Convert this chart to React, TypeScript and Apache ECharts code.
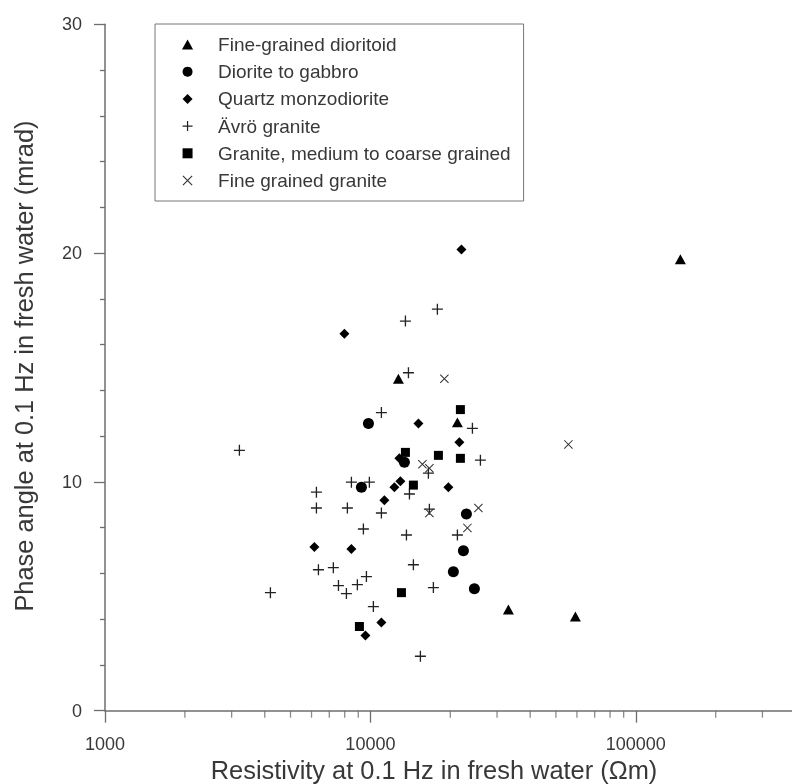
import React, { useEffect, useRef } from "react";
import * as echarts from "echarts";

// Data: [resistivity (Ωm), phase angle (mrad)]
const fineGrainedDioritoid = [[147200, 19.73], [12750, 14.51], [21270, 12.6], [33110, 4.42], [59200, 4.12]];
const dioriteToGabbro = [[9830, 12.55], [13430, 10.86], [9250, 9.77], [23000, 8.6], [22410, 6.99], [20540, 6.07], [24650, 5.33]];
const quartzMonzodiorite = [[22030, 20.16], [7980, 16.47], [15170, 12.55], [21640, 11.73], [12860, 11.03], [12310, 9.77], [12970, 10.03], [19670, 9.77], [11290, 9.2], [6150, 7.16], [8480, 7.07], [11000, 3.86], [9580, 3.29]];
const avroGranite = [[3209, 11.38], [6260, 9.55], [6260, 8.86], [8480, 9.99], [9910, 9.99], [8190, 8.86], [11000, 8.64], [9410, 7.94], [6370, 6.16], [7250, 6.25], [7580, 5.47], [8120, 5.12], [8930, 5.51], [9660, 5.86], [4200, 5.16], [10260, 4.55], [11000, 13.03], [13550, 17.03], [17880, 17.55], [13910, 14.77], [16540, 10.38], [14030, 9.47], [13670, 7.68], [14520, 6.38], [15430, 2.38], [17270, 5.38], [21270, 7.68], [24230, 12.34], [25970, 10.95], [16680, 8.81]];
const graniteMediumCoarse = [[21830, 13.16], [13550, 11.29], [18040, 11.16], [21830, 11.03], [14520, 9.86], [13090, 5.16], [9090, 3.68]];
const fineGrainedGranite = [[19000, 14.51], [55720, 11.64], [15700, 10.77], [16680, 10.6], [16680, 8.64], [25520, 8.86], [23200, 7.99]];

const seriesNames = [
  "Fine-grained dioritoid",
  "Diorite to gabbro",
  "Quartz monzodiorite",
  "Ävrö granite",
  "Granite, medium to coarse grained",
  "Fine grained granite",
];

const xMinorTickValues = [2000, 3000, 4000, 5000, 6000, 7000, 8000, 9000, 20000, 30000, 40000, 50000, 60000, 70000, 80000, 90000, 200000, 300000];

const xTitle = "Resistivity at 0.1 Hz in fresh water (Ωm)";
const yTitle = "Phase angle at 0.1 Hz in fresh water (mrad)";

const FONT = "'Liberation Sans', Arial, sans-serif";
const AXIS_COLOR = "#6e6e6e";
const TEXT_COLOR = "#383838";

const TRIANGLE = "path://M5,0L10,9L0,9Z";
const DIAMOND = "path://M5,0L10,5L5,10L0,5Z";
const SQUARE = "path://M0,0H10V10H0Z";
const PLUS = "path://M4.4,0H5.6V4.4H10V5.6H5.6V10H4.4V5.6H0V4.4H4.4Z";
const CROSS = "path://M0,0.8L0.8,0L10,9.2L9.2,10Z M9.2,0L10,0.8L0.8,10L0,9.2Z";

export default function App() {
  const ref = useRef<HTMLDivElement>(null);
  useEffect(() => {
    if (!ref.current) return;
    const chart = echarts.init(ref.current, null, { renderer: "svg" });
    const mk = (name: string, data: number[][], symbol: string, size: any, color: string) => ({
      type: "scatter",
      name,
      data,
      symbol,
      symbolSize: size,
      symbolKeepAspect: true,
      itemStyle: { color, opacity: 1 },
      clip: false,
      z: 3,
    });
    chart.setOption({
      animation: false,
      textStyle: { fontFamily: FONT },
      grid: { left: 105, top: 24.3, height: 686.4, width: 690.6, outerBoundsMode: "none", containLabel: false },
      xAxis: {
        type: "log",
        logBase: 10,
        min: 1000,
        max: 400000,
        axisLine: { show: true, lineStyle: { color: AXIS_COLOR, width: 1.5 } },
        axisTick: { show: true, length: 12, lineStyle: { color: AXIS_COLOR, width: 1.3 } },
        axisLabel: {
          show: true,
          margin: 24,
          fontSize: 18,
          color: TEXT_COLOR,
          fontFamily: FONT,
          showMaxLabel: false,
          formatter: (v: number) => {
            const l = Math.log10(v);
            return Math.abs(l - Math.round(l)) < 1e-6 ? String(Math.round(v)) : "";
          },
        },
        splitLine: { show: false },
        minorTick: { show: false },
      },
      yAxis: {
        type: "value",
        min: 0,
        max: 30,
        interval: 10,
        axisLine: { show: true, lineStyle: { color: AXIS_COLOR, width: 1.5 } },
        axisTick: { show: true, length: 11, lineStyle: { color: AXIS_COLOR, width: 1.3 } },
        minorTick: { show: true, splitNumber: 5, length: 5, lineStyle: { color: AXIS_COLOR, width: 1.3 } },
        axisLabel: { margin: 23, fontSize: 18, color: TEXT_COLOR, fontFamily: FONT },
        splitLine: { show: false },
      },
      legend: {
        orient: "vertical",
        left: 155,
        top: 24,
        data: seriesNames,
        itemWidth: 51,
        itemHeight: 10,
        itemGap: 8.2,
        padding: [11, 13, 11, 27],
        borderColor: "#777",
        borderWidth: 1,
        selectedMode: false,
        symbolKeepAspect: true,
        textStyle: { fontSize: 19, lineHeight: 19, color: TEXT_COLOR, fontFamily: FONT },
      },
      graphic: [
        {
          type: "text",
          x: 434,
          y: 770,
          style: { text: xTitle, textAlign: "center", textVerticalAlign: "middle", fontSize: 25.4, fontFamily: FONT, fill: TEXT_COLOR },
        },
        {
          type: "text",
          x: 24,
          y: 366,
          rotation: Math.PI / 2,
          style: { text: yTitle, textAlign: "center", textVerticalAlign: "middle", fontSize: 25.4, fontFamily: FONT, fill: TEXT_COLOR },
        },
      ],
      series: [
        {
          type: "scatter",
          name: "_minorTicks",
          data: xMinorTickValues.map((v) => [v, 0]),
          symbol: "rect",
          symbolSize: [1.3, 7],
          symbolOffset: [0, 3.5],
          itemStyle: { color: AXIS_COLOR },
          silent: true,
          clip: false,
          z: 1,
        },
        mk(seriesNames[0], fineGrainedDioritoid, TRIANGLE, 11, "#000"),
        mk(seriesNames[1], dioriteToGabbro, "circle", 11, "#000"),
        mk(seriesNames[2], quartzMonzodiorite, DIAMOND, 10, "#000"),
        mk(seriesNames[3], avroGranite, PLUS, 11, "#222"),
        mk(seriesNames[4], graniteMediumCoarse, SQUARE, 9, "#000"),
        mk(seriesNames[5], fineGrainedGranite, CROSS, 9, "#333"),
      ],
    });
    return () => chart.dispose();
  }, []);
  return <div ref={ref} style={{ position: "fixed", left: 0, top: 0, width: 792, height: 784 }} />;
}
